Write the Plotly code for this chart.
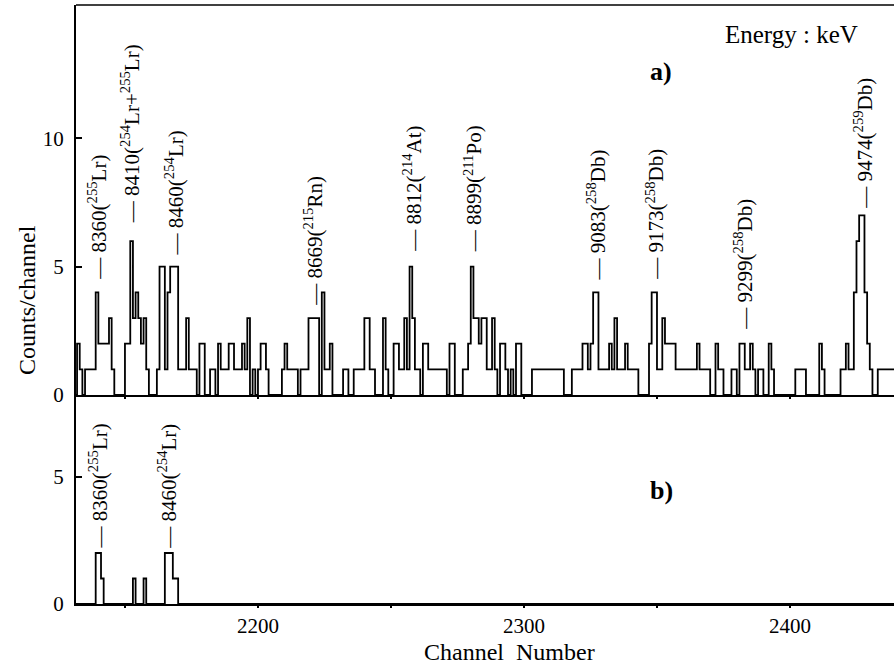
import plotly.graph_objects as go

# ---------------- data ----------------
ch_start = 2130  # first channel of counts_a
counts_a = [
    0, 0, 2, 1, 0, 1, 1, 1, 1, 4,   # 2130-2139
    2, 2, 2, 2, 3, 1, 0, 0, 0, 0,   # 2140-2149
    2, 2, 6, 3, 4, 3, 2, 3, 1, 0,   # 2150-2159
    0, 0, 1, 5, 5, 1, 4, 5, 5, 5,   # 2160-2169
    1, 1, 1, 3, 1, 1, 1, 0, 2, 2,   # 2170-2179
    0, 0, 1, 1, 0, 2, 1, 1, 1, 2,   # 2180-2189
    2, 1, 1, 1, 2, 1, 3, 0, 1, 0,   # 2190-2199
    1, 2, 2, 1, 0, 0, 0, 0, 0, 1,   # 2200-2209
    2, 1, 1, 1, 1, 0, 1, 1, 1, 3,   # 2210-2219
    3, 3, 3, 0, 4, 1, 1, 2, 0, 0,   # 2220-2229
    0, 0, 1, 1, 0, 0, 1, 1, 1, 1,   # 2230-2239
    3, 3, 1, 1, 0, 0, 0, 3, 1, 0,   # 2240-2249
    0, 2, 2, 1, 1, 3, 1, 5, 3, 1,   # 2250-2259
    1, 0, 2, 2, 1, 1, 1, 1, 1, 1,   # 2260-2269
    1, 0, 2, 2, 0, 0, 0, 1, 1, 2,   # 2270-2279
    5, 3, 3, 2, 3, 3, 1, 1, 3, 1,   # 2280-2289
    0, 2, 2, 1, 0, 1, 0, 2, 2, 0,   # 2290-2299
    0, 0, 0, 1, 1, 1, 1, 1, 1, 1,   # 2300-2309
    1, 1, 1, 1, 1, 0, 0, 0, 1, 1,   # 2310-2319
    1, 1, 2, 2, 1, 2, 4, 4, 1, 1,   # 2320-2329
    1, 1, 2, 1, 3, 1, 1, 1, 2, 1,   # 2330-2339
    1, 1, 1, 0, 0, 0, 0, 2, 4, 4,   # 2340-2349
    1, 1, 3, 2, 2, 2, 2, 1, 1, 1,   # 2350-2359
    1, 1, 1, 1, 1, 2, 1, 1, 1, 1,   # 2360-2369
    0, 0, 2, 1, 1, 0, 0, 0, 1, 1,   # 2370-2379
    0, 2, 2, 1, 1, 2, 1, 0, 1, 1,   # 2380-2389
    0, 0, 2, 1, 0, 0, 0, 0, 0, 0,   # 2390-2399
    0, 0, 1, 1, 1, 1, 0, 0, 0, 0,   # 2400-2409
    0, 2, 1, 0, 0, 0, 0, 0, 0, 1,   # 2410-2419
    1, 2, 1, 1, 4, 6, 7, 7, 4, 2,   # 2420-2429
    1, 0, 0, 1, 1, 1, 1, 1, 1, 1,   # 2430-2439
    1,                              # 2440
]

channels_b = [2139, 2140, 2141, 2153, 2157, 2165, 2166, 2167, 2168, 2169]
counts_b_nonzero = [2, 2, 1, 1, 1, 2, 2, 2, 1, 1]

x_range = [2131.6, 2439.1]
x_tick_vals = [2150, 2200, 2250, 2300, 2350, 2400]
x_tick_text = ["", "2200", "", "2300", "", "2400"]

labels_a_text = [
    "8360(<sup>255</sup>Lr)",
    "8410(<sup>254</sup>Lr+<sup>255</sup>Lr)",
    "8460(<sup>254</sup>Lr)",
    "8669(<sup>215</sup>Rn)",
    "8812(<sup>214</sup>At)",
    "8899(<sup>211</sup>Po)",
    "9083(<sup>258</sup>Db)",
    "9173(<sup>258</sup>Db)",
    "9299(<sup>258</sup>Db)",
    "9474(<sup>259</sup>Db)",
]
labels_a_x = [2139.9, 2151.9, 2168.5, 2221.1, 2258.2, 2280.8, 2327.4, 2349.3, 2382.5, 2427.8]
labels_a_y = [4.4, 6.6, 5.35, 3.4, 5.5, 5.5, 4.4, 4.4, 2.46, 7.2]

labels_b_text = ["8360(<sup>255</sup>Lr)", "8460(<sup>254</sup>Lr)"]
labels_b_x = [2140.4, 2166.1]
labels_b_y = [2.1, 2.1]

# ---------------- build ----------------
FONT = "Liberation Serif"
W, H = 894, 664
L, R, T, B = 76, 0, 5, 60
PW, PH = W - L - R, H - T - B
split = (604 - 395) / PH


def px(xp):
    return (xp - L) / PW


def py(yp):
    return (H - B - yp) / PH


edges_a = [ch_start + i for i in range(len(counts_a))]
counts_b = [0] * len(counts_a)
for c, v in zip(channels_b, counts_b_nonzero):
    counts_b[c - ch_start] = v

fig = go.Figure()
fig.add_trace(go.Scatter(x=edges_a, y=counts_a, mode="lines",
                         line=dict(shape="hv", color="black", width=1.8),
                         xaxis="x", yaxis="y", hoverinfo="skip", showlegend=False))
fig.add_trace(go.Scatter(x=edges_a, y=counts_b, mode="lines",
                         line=dict(shape="hv", color="black", width=1.8),
                         xaxis="x2", yaxis="y2", hoverinfo="skip", showlegend=False))

tickfont = dict(family=FONT, size=21, color="black")
common_x = dict(range=x_range, tickvals=x_tick_vals, ticktext=x_tick_text,
                ticks="outside", ticklen=2, tickwidth=2, tickcolor="black",
                showline=True, linecolor="black", linewidth=2,
                showgrid=False, zeroline=False, tickfont=tickfont, automargin=False)
common_y = dict(ticks="inside", ticklen=6, tickwidth=1.5, tickcolor="black",
                showline=True, linecolor="black", linewidth=2.3,
                showgrid=False, zeroline=False, tickfont=tickfont,
                ticklabelstandoff=6, automargin=False)

fig.update_layout(
    width=W, height=H,
    margin=dict(l=L, r=R, t=T, b=B),
    paper_bgcolor="white", plot_bgcolor="white",
    showlegend=False,
    xaxis=dict(domain=[0, 1], anchor="y", showticklabels=False, **common_x),
    xaxis2=dict(domain=[0, 1], anchor="y2", matches="x", **common_x),
    yaxis=dict(domain=[split, 1], anchor="x", range=[0, 15.2], tickvals=[0, 5, 10], **common_y),
    yaxis2=dict(domain=[0, split], anchor="x2", range=[0, 8.2], tickvals=[0, 5], **common_y),
)

annotations = []
lab_font = dict(family=FONT, size=21, color="black")
for t, xv, yv in zip(labels_a_text, labels_a_x, labels_a_y):
    annotations.append(dict(x=xv, y=yv, xref="x", yref="y", text="— " + t,
                            textangle=-90, showarrow=False, xanchor="center",
                            yanchor="bottom", font=lab_font))
for t, xv, yv in zip(labels_b_text, labels_b_x, labels_b_y):
    annotations.append(dict(x=xv, y=yv, xref="x2", yref="y2", text="— " + t,
                            textangle=-90, showarrow=False, xanchor="center",
                            yanchor="bottom", font=lab_font))

annotations += [
    dict(x=px(791), y=py(34), xref="paper", yref="paper", text="Energy : keV",
         xanchor="center", yanchor="middle",
         showarrow=False, font=dict(family=FONT, size=25, color="black")),
    dict(x=px(661), y=py(71), xref="paper", yref="paper", text="<b>a)</b>",
         xanchor="center", yanchor="middle",
         showarrow=False, font=dict(family=FONT, size=26, color="black")),
    dict(x=px(661), y=py(490), xref="paper", yref="paper", text="<b>b)</b>",
         xanchor="center", yanchor="middle",
         showarrow=False, font=dict(family=FONT, size=26, color="black")),
    dict(x=px(27), y=py(300), xref="paper", yref="paper", text="Counts/channel",
         xanchor="center", yanchor="middle",
         textangle=-90, showarrow=False, font=dict(family=FONT, size=24, color="black")),
    dict(x=px(510), y=py(652), xref="paper", yref="paper", text="Channel  Number",
         xanchor="center", yanchor="middle",
         showarrow=False, font=dict(family=FONT, size=24, color="black")),
]
fig.update_layout(annotations=annotations)

fig.add_shape(type="line", xref="paper", yref="paper", x0=0, x1=1, y0=1, y1=1,
              line=dict(color="black", width=1.6))

fig.write_html("out.html",
               config={"displayModeBar": False},
               post_script="document.body.style.margin='0px';document.body.style.overflow='hidden';")
